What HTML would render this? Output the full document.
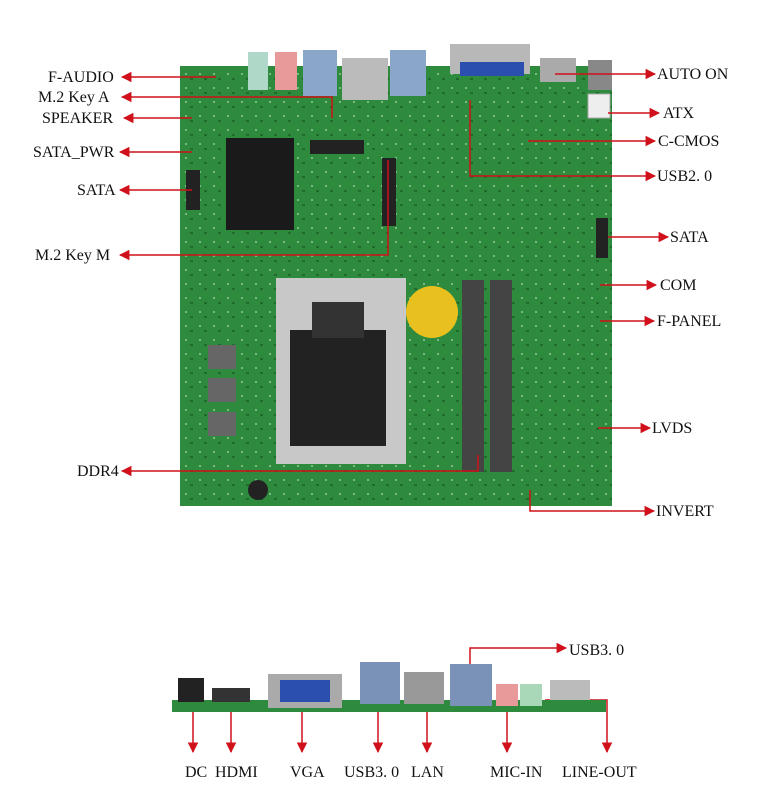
<!DOCTYPE html>
<html><head><meta charset="utf-8"><style>
body{margin:0;background:#fff;width:768px;height:808px;overflow:hidden}
svg{display:block}
text{font-family:"Liberation Serif",serif;font-size:16px;fill:#111}
</style></head><body>
<svg width="768" height="808" viewBox="0 0 768 808" xmlns="http://www.w3.org/2000/svg">
<defs>
<marker id="a" viewBox="0 0 10 10" refX="9" refY="5" markerWidth="7" markerHeight="7" orient="auto-start-reverse"><path d="M0,0L10,5L0,10z" fill="#d0101a"/></marker>
<pattern id="p" width="14" height="14" patternUnits="userSpaceOnUse"><rect width="14" height="14" fill="#2e8a3c"/><circle cx="4" cy="4" r="1" fill="#8fc89a"/><rect x="8" y="8" width="3" height="2" fill="#1f6a2c"/></pattern>
</defs>
<rect x="180" y="66" width="432" height="440" fill="url(#p)"/>
<rect x="248" y="52" width="20" height="38" fill="#b0d8c8"/>
<rect x="275" y="52" width="22" height="38" fill="#e89a9a"/>
<rect x="303" y="50" width="34" height="46" fill="#8aa6c8"/>
<rect x="342" y="58" width="46" height="42" fill="#bbb"/>
<rect x="390" y="50" width="36" height="46" fill="#8aa6c8"/>
<rect x="450" y="44" width="80" height="30" fill="#b8b8b8"/>
<rect x="460" y="62" width="64" height="14" fill="#2b4fae"/>
<rect x="540" y="58" width="36" height="24" fill="#aaa"/>
<rect x="588" y="60" width="24" height="30" fill="#888"/>
<rect x="588" y="94" width="22" height="24" fill="#eee" stroke="#aaa"/>
<rect x="226" y="138" width="68" height="92" fill="#1a1a1a"/>
<rect x="310" y="140" width="54" height="14" fill="#222"/>
<rect x="382" y="158" width="14" height="68" fill="#222"/>
<rect x="276" y="278" width="130" height="186" fill="#c8c8c8"/>
<rect x="290" y="330" width="96" height="116" fill="#222"/>
<rect x="312" y="302" width="52" height="36" fill="#333"/>
<rect x="462" y="280" width="22" height="192" fill="#444"/>
<rect x="490" y="280" width="22" height="192" fill="#444"/>
<circle cx="432" cy="312" r="26" fill="#e8c020"/>
<rect x="596" y="218" width="12" height="40" fill="#222"/>
<rect x="186" y="170" width="14" height="40" fill="#222"/>
<rect x="208" y="345" width="28" height="24" fill="#666"/>
<rect x="208" y="378" width="28" height="24" fill="#666"/>
<rect x="208" y="412" width="28" height="24" fill="#666"/>
<circle cx="258" cy="490" r="10" fill="#222"/>

<g stroke="#d0101a" stroke-width="1.5" fill="none">
<path d="M216,77H122" marker-end="url(#a)"/>
<path d="M332,118V97H122" marker-end="url(#a)"/>
<path d="M192,118H124" marker-end="url(#a)"/>
<path d="M192,152H120" marker-end="url(#a)"/>
<path d="M192,190H120" marker-end="url(#a)"/>
<path d="M388,160V255H120" marker-end="url(#a)"/>
<path d="M478,455V471H122" marker-end="url(#a)"/>
<path d="M555,74H655" marker-end="url(#a)"/>
<path d="M608,113H659" marker-end="url(#a)"/>
<path d="M528,141H655" marker-end="url(#a)"/>
<path d="M470,100V176H655" marker-end="url(#a)"/>
<path d="M608,237H668" marker-end="url(#a)"/>
<path d="M600,285H656" marker-end="url(#a)"/>
<path d="M600,321H654" marker-end="url(#a)"/>
<path d="M598,428H650" marker-end="url(#a)"/>
<path d="M530,490V511H654" marker-end="url(#a)"/>
<path d="M470,672V648H566" marker-end="url(#a)"/>
<path d="M193,705V752" marker-end="url(#a)"/>
<path d="M231,705V752" marker-end="url(#a)"/>
<path d="M302,705V752" marker-end="url(#a)"/>
<path d="M378,705V752" marker-end="url(#a)"/>
<path d="M427,705V752" marker-end="url(#a)"/>
<path d="M507,705V752" marker-end="url(#a)"/>
<path d="M545,700H607V752" marker-end="url(#a)"/>
</g>
<rect x="172" y="700" width="434" height="12" fill="#2e8a3c"/>
<rect x="178" y="678" width="26" height="24" fill="#222"/>
<rect x="212" y="688" width="38" height="14" fill="#333"/>
<rect x="268" y="674" width="74" height="34" fill="#aaa"/>
<rect x="280" y="680" width="50" height="22" fill="#2b4fae"/>
<rect x="360" y="662" width="40" height="42" fill="#7a92b8"/>
<rect x="404" y="672" width="40" height="32" fill="#999"/>
<rect x="450" y="664" width="42" height="42" fill="#7a92b8"/>
<rect x="496" y="684" width="22" height="22" fill="#e89a9a"/>
<rect x="520" y="684" width="22" height="22" fill="#a8d8b8"/>
<rect x="550" y="680" width="40" height="20" fill="#bbb"/>
<text x="48" y="82">F-AUDIO</text>
<text x="38" y="102">M.2 Key A</text>
<text x="42" y="123">SPEAKER</text>
<text x="33" y="157">SATA_PWR</text>
<text x="77" y="195">SATA</text>
<text x="35" y="260">M.2 Key M</text>
<text x="77" y="476">DDR4</text>
<text x="657" y="79">AUTO ON</text>
<text x="663" y="118">ATX</text>
<text x="658" y="146">C-CMOS</text>
<text x="657" y="181">USB2. 0</text>
<text x="670" y="242">SATA</text>
<text x="660" y="290">COM</text>
<text x="657" y="326">F-PANEL</text>
<text x="652" y="433">LVDS</text>
<text x="656" y="516">INVERT</text>
<text x="569" y="655">USB3. 0</text>
<text x="185" y="777">DC</text>
<text x="215" y="777">HDMI</text>
<text x="290" y="777">VGA</text>
<text x="344" y="777">USB3. 0</text>
<text x="411" y="777">LAN</text>
<text x="490" y="777">MIC-IN</text>
<text x="562" y="777">LINE-OUT</text>
</svg>
</body></html>
